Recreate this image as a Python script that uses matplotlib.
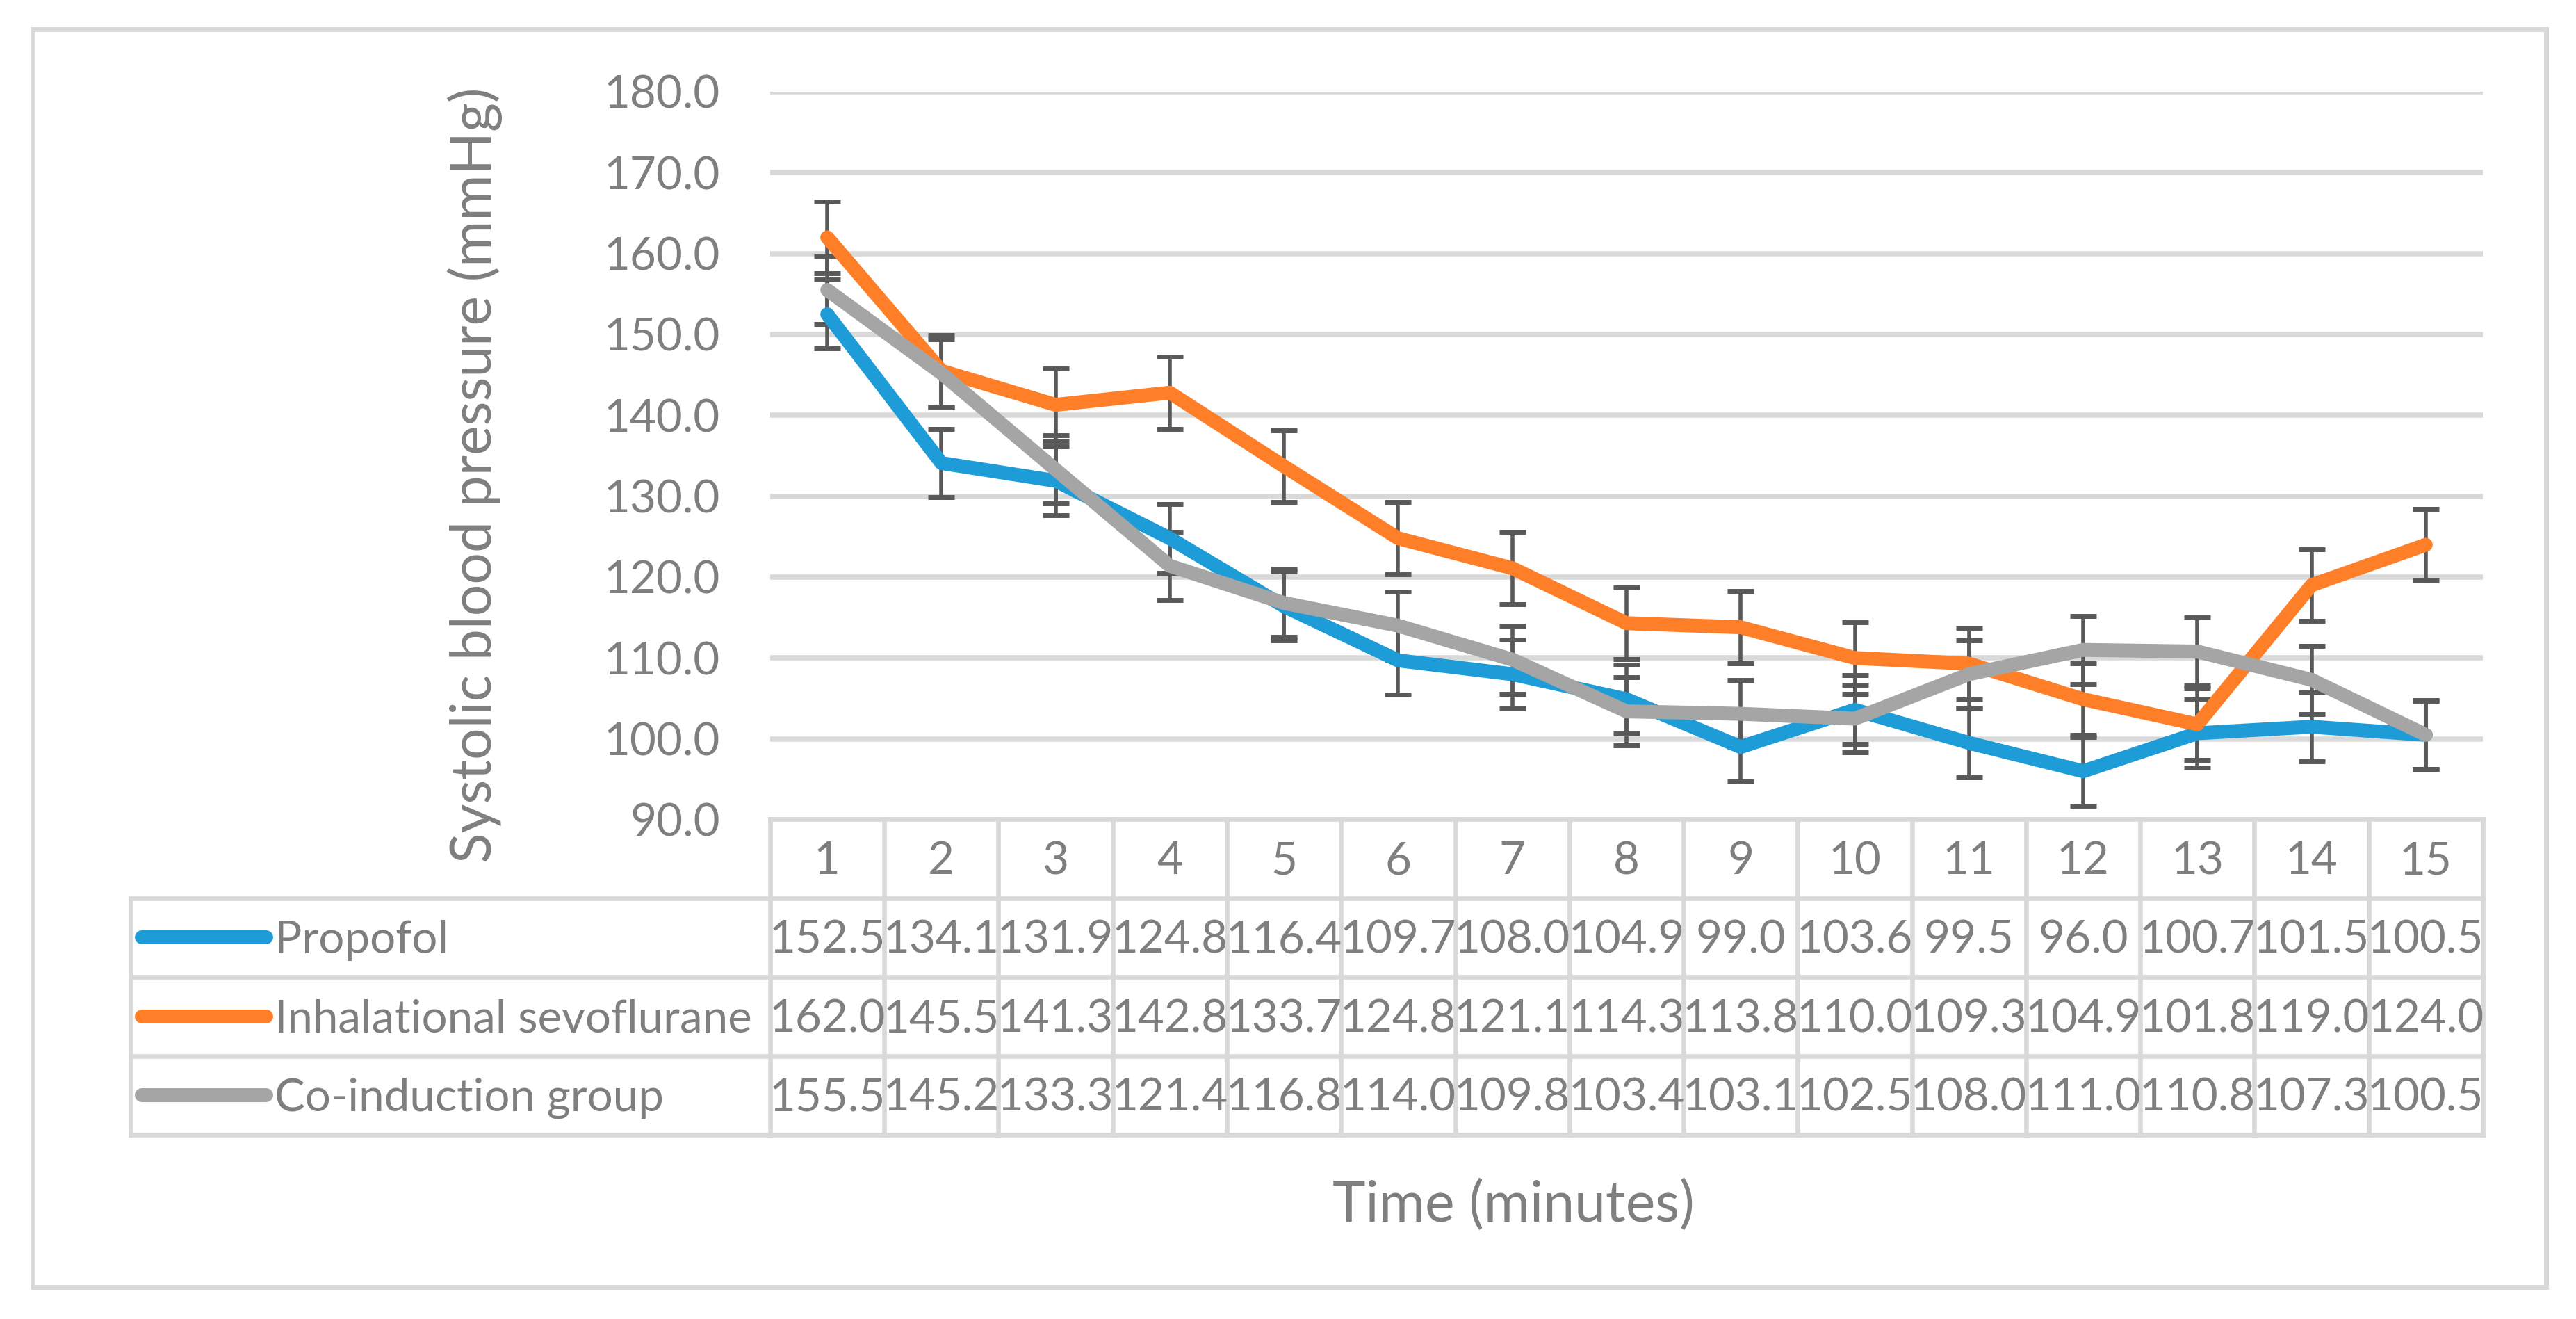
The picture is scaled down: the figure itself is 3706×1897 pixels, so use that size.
import matplotlib.pyplot as plt
from matplotlib.patches import Rectangle
import numpy as np

plt.rcParams['font.family'] = ['Lato', 'DejaVu Sans']

# data
minutes = np.arange(1, 16)
series_names = ['Propofol', 'Inhalational sevoflurane', 'Co-induction group']
propofol = [152.5, 134.1, 131.9, 124.8, 116.4, 109.7, 108.0, 104.9, 99.0, 103.6, 99.5, 96.0, 100.7, 101.5, 100.5]
sevoflurane = [162.0, 145.5, 141.3, 142.8, 133.7, 124.8, 121.1, 114.3, 113.8, 110.0, 109.3, 104.9, 101.8, 119.0, 124.0]
coinduction = [155.5, 145.2, 133.3, 121.4, 116.8, 114.0, 109.8, 103.4, 103.1, 102.5, 108.0, 111.0, 110.8, 107.3, 100.5]
# error bar half lengths (same for each point of a series)
propofol_err = 4.25
sevoflurane_err = 4.45
coinduction_err = 4.2
y_ticks = np.arange(90, 181, 10)

colors = ['#1E9CD7', '#FE7F27', '#A5A5A5']
text_grey = '#7F7F7F'
line_grey = '#D9D9D9'
err_grey = '#595959'

W, H = 3706, 1897
fig = plt.figure(figsize=(W / 200, H / 200), dpi=200)


def box(x0, y0, x1, y1):
    # pixel box (top-left origin) -> figure rect
    return [x0 / W, 1 - y1 / H, (x1 - x0) / W, (y1 - y0) / H]


# chart area
ax = fig.add_axes(box(1108, 132, 3572, 1179))
ax.set_xlim(0.5, 15.5)
ax.set_ylim(90, 180)
ax.set_yticks(y_ticks)
ax.set_yticklabels(['%.1f' % t for t in y_ticks])
ax.set_xticks([])
ax.tick_params(axis='y', length=0, pad=26, labelsize=23.6, labelcolor=text_grey)
for s in ax.spines.values():
    s.set_visible(False)
ax.grid(axis='y', color=line_grey, linewidth=2.7)
ax.set_axisbelow(True)

all_series = [propofol, sevoflurane, coinduction]
all_err = [propofol_err, sevoflurane_err, coinduction_err]

for vals, err in zip(all_series, all_err):
    ax.errorbar(minutes, vals, yerr=err, fmt='none', ecolor=err_grey,
                elinewidth=2, capsize=7, capthick=2.5, zorder=2)
for vals, c in zip(all_series, colors):
    ax.plot(minutes, vals, color=c, linewidth=7.2, solid_capstyle='round',
            solid_joinstyle='round', zorder=3)

# data table under the chart
left = 0.5 - 5.6
tax = fig.add_axes(box(188, 1178, 3572, 1632))
tax.set_xlim(left, 15.5)
tax.set_ylim(4, 0)
tax.axis('off')

h0 = tax.hlines(0, 0.5, 15.5, color=line_grey, linewidth=2.4, clip_on=False)
h1 = tax.hlines([1, 2, 3, 4], left, 15.5, color=line_grey, linewidth=2.4, clip_on=False)
v0 = tax.vlines(left, 1, 4, color=line_grey, linewidth=2.4, clip_on=False)
v1 = tax.vlines(np.arange(0.5, 16), 0, 4, color=line_grey, linewidth=2.4, clip_on=False)
for lc in (h0, h1, v0, v1):
    lc.set_capstyle('projecting')

for k in minutes:
    tax.text(k, 0.5 + 0.2, str(k), ha='center', va='baseline',
             fontsize=23.6, color=text_grey)

for j, (name, vals, c) in enumerate(zip(series_names, all_series, colors)):
    yc = j + 1.5
    tax.plot([left + 0.1, left + 1.19], [yc, yc], color=c, linewidth=7.2,
             solid_capstyle='round', clip_on=False)
    tax.text(left + 1.26, yc + 0.2, name, ha='left', va='baseline',
             fontsize=23.6, color=text_grey)
    for k, v in zip(minutes, vals):
        tax.text(k, yc + 0.2, '%.1f' % v, ha='center', va='baseline',
                 fontsize=23.6, color=text_grey)

# axis titles
fig.text(683 / W, 1 - 683 / H, 'Systolic blood pressure (mmHg)', rotation=90,
         ha='center', va='center', fontsize=29, color=text_grey)
fig.text(2177 / W, 1 - 1757 / H, 'Time (minutes)', ha='center', va='baseline',
         fontsize=29, color=text_grey)

# outer frame
fig.patches.append(Rectangle((47 / W, 1 - 1851 / H), (3663 - 47) / W, (1851 - 42) / H,
                             transform=fig.transFigure, fill=False,
                             edgecolor=line_grey, linewidth=2.5))

fig.savefig('out.png', dpi=200)
